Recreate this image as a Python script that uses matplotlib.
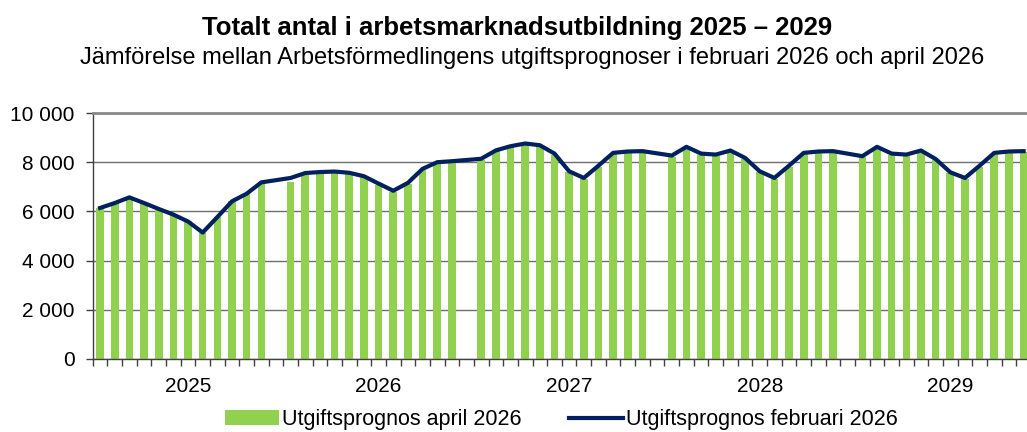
import matplotlib
matplotlib.use("Agg")
import matplotlib.pyplot as plt
import numpy as np

plt.rcParams['font.family'] = ['Liberation Sans', 'DejaVu Sans']

years = [2025, 2026, 2027, 2028, 2029]

# Utgiftsprognos februari 2026 (line), Jan-Dec per year
feb_2025 = [6140, 6340, 6570, 6340, 6100, 5870, 5590, 5140, 5770, 6410, 6720, 7180]
feb_2026 = [7360, 7560, 7600, 7620, 7570, 7430, 7130, 6840, 7160, 7730, 8000, 8040]
feb_2027 = [8140, 8480, 8650, 8760, 8690, 8350, 7630, 7360, 7860, 8380, 8435, 8450]
feb_2028 = [8270, 8625, 8350, 8310, 8475, 8175, 7630, 7360, 7860, 8380, 8435, 8450]
feb_2029 = [8245, 8625, 8350, 8310, 8475, 8130, 7590, 7360, 7860, 8380, 8435, 8450]

# Utgiftsprognos april 2026 (bars), Jan-Dec per year
apr_2025 = [6140, 6340, 6570, 6340, 6100, 5870, 5590, 5140, 5770, 6410, 6720, 7180]
apr_2026 = [7180, 7480, 7600, 7610, 7550, 7380, 7070, 6790, 7110, 7690, 7960, 8000]
apr_2027 = [8100, 8440, 8610, 8720, 8650, 8310, 7590, 7320, 7820, 8340, 8400, 8420]
apr_2028 = [8230, 8590, 8310, 8270, 8440, 8140, 7590, 7320, 7820, 8340, 8400, 8420]
apr_2029 = [8210, 8590, 8310, 8270, 8440, 8090, 7550, 7320, 7820, 8340, 8400, 8420]

feb = [feb_2025, feb_2026, feb_2027, feb_2028, feb_2029]
apr = [apr_2025, apr_2026, apr_2027, apr_2028, apr_2029]

# 12 months + one empty slot per year on the category axis
x = []
bar_vals = []
line_vals = []
for i in range(len(years)):
    for m in range(12):
        x.append(i * 13 + m)
        bar_vals.append(apr[i][m])
        line_vals.append(feb[i][m])
x = np.array(x)

fig = plt.figure(figsize=(10.27, 4.32), dpi=100)
ax = fig.add_axes([0.0903, 0.169, 0.9278, 0.5694])

bars = ax.bar(x, bar_vals, width=0.52, color='#92D050', zorder=2)
line, = ax.plot(x, line_vals, color='#002060', lw=3, zorder=3,
                solid_joinstyle='round')

ax.set_xlim(-0.5, 64.5)
ax.set_ylim(0, 10000)
ax.set_yticks(range(0, 10001, 2000))
ax.set_yticklabels([f"{v:,}".replace(",", " ") for v in range(0, 10001, 2000)],
                   fontsize=15)
ax.yaxis.grid(True, color='#6f6f6f', lw=1, zorder=1)

ax.set_xticks([6 + 13 * i for i in range(len(years))])
ax.set_xticklabels([str(y) for y in years], fontsize=15)
ax.set_xticks(np.arange(-0.5, 65, 1), minor=True)
ax.tick_params(axis='x', which='major', length=0, pad=13)
ax.tick_params(axis='x', which='minor', length=5, width=1, color='#404040')
ax.tick_params(axis='y', length=5, width=1, color='#404040', pad=8)

for s in ['left', 'bottom']:
    ax.spines[s].set_color('#404040')
    ax.spines[s].set_linewidth(1)
ax.spines['top'].set_color('#8a8a8a')
ax.spines['top'].set_linewidth(2)
ax.spines['right'].set_visible(False)

fig.text(0.503, 0.919, 'Totalt antal i arbetsmarknadsutbildning 2025 – 2029',
         ha='center', va='baseline', fontsize=18.5, fontweight='bold')
fig.text(0.518, 0.853, 'Jämförelse mellan Arbetsförmedlingens utgiftsprognoser i februari 2026 och april 2026',
         ha='center', va='baseline', fontsize=17)

fig.legend([bars, line], ['Utgiftsprognos april 2026', 'Utgiftsprognos februari 2026'],
           loc='center', bbox_to_anchor=(0.547, 0.028), ncol=2, frameon=False,
           fontsize=15.5, handlelength=2.5, columnspacing=2.2, handletextpad=0.15)

fig.savefig('out.png', dpi=100)
